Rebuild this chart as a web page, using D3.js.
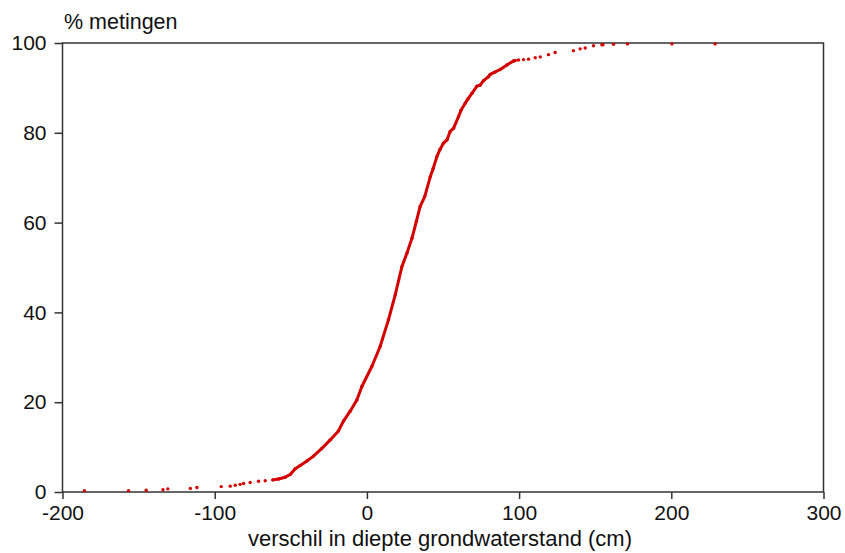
<!DOCTYPE html>
<html lang="nl">
<head>
    <meta charset="UTF-8">
    <title>Verschil in diepte grondwaterstand</title>
    <script src="https://cdnjs.cloudflare.com/ajax/libs/d3/7.8.5/d3.min.js"></script>
    <style>
        body { margin: 0; background: #fff; }
        text { font-family: "Liberation Sans", Arial, sans-serif; }
    </style>
</head>
<body>
    <div id="wrapper"></div>
    <script>
        // losse metingen aan de onderkant (cm, % metingen)
        const lowX = [-185.6, -156.6, -145.0, -134.0, -130.8, -116.0, -111.7, -95.7, -89.8, -86.5, -83.3, -81.0, -76.7, -71.2, -66.8]
        const lowPct = [0.3, 0.3, 0.4, 0.5, 0.7, 0.8, 1.0, 1.2, 1.3, 1.5, 1.7, 1.9, 2.1, 2.4, 2.5]

        // dichte middenstuk van de curve
        const midX = [-61.8, -58.1, -53.7, -50.4, -47.1, -43.8, -39.4, -35.1, -29.6, -24.1, -18.7, -15.4, -11.0, -6.6, -3.3,
            3.3, 8.7, 14.2, 18.6, 23.0, 26.3, 29.6, 32.5, 35.0, 38.0, 41.6, 43.5, 46.0, 48.0, 50.3, 52.6, 54.7, 56.9,
            60.2, 61.8, 64.6, 66.5, 69.0, 72.3, 74.4, 76.6, 79.9, 81.0, 84.0, 87.6, 92.0, 96.3, 97.4]
        const midPct = [2.7, 2.9, 3.3, 3.9, 5.2, 5.9, 6.9, 8.0, 9.7, 11.6, 13.6, 15.8, 18.0, 20.5, 23.5,
            28.0, 32.4, 38.4, 43.9, 50.2, 53.2, 56.5, 60.3, 63.6, 65.8, 70.2, 72.0, 74.7, 76.3, 77.7, 78.4, 80.3, 81.0,
            83.6, 85.0, 86.6, 87.6, 88.8, 90.4, 90.6, 91.6, 92.5, 93.0, 93.5, 94.1, 95.1, 96.0, 96.1]

        // losse metingen aan de bovenkant
        const highX = [99.6, 102.9, 106.2, 110.6, 113.9, 119.3, 123.7, 135.7, 140.1, 143.4, 148.9, 154.4, 155.1, 162.0, 171.2, 200.4, 228.8]
        const highPct = [96.2, 96.3, 96.4, 96.7, 96.9, 97.4, 97.9, 98.3, 98.7, 98.9, 99.4, 99.6, 99.6, 99.7, 99.8, 99.8, 99.8]

        const xTicks = [-200, -100, 0, 100, 200, 300]
        const yTicks = [0, 20, 40, 60, 80, 100]

        const red = '#d40000'
        const axisColor = '#333'

        let dimensions = {
            width: 845,
            height: 553,
            margin: { top: 43, right: 21.5, bottom: 61, left: 62.5 }
        }
        dimensions.boundedWidth = dimensions.width - dimensions.margin.left - dimensions.margin.right
        dimensions.boundedHeight = dimensions.height - dimensions.margin.top - dimensions.margin.bottom

        const svg = d3.select('#wrapper')
            .append('svg')
                .attr('width', dimensions.width)
                .attr('height', dimensions.height)

        const bounds = svg.append('g')
            .attr('transform', `translate(${dimensions.margin.left},${dimensions.margin.top})`)

        const xScale = d3.scaleLinear()
            .domain([-200, 300])
            .range([0, dimensions.boundedWidth])

        const yScale = d3.scaleLinear()
            .domain([0, 100])
            .range([dimensions.boundedHeight, 0])

        // kader
        bounds.append('rect')
            .attr('width', dimensions.boundedWidth)
            .attr('height', dimensions.boundedHeight)
            .attr('fill', 'none')
            .attr('stroke', axisColor)
            .attr('stroke-width', 1.5)

        // assen (gewoon koppelteken als minteken, zoals in het origineel)
        const plain = d => String(d)
        const xAxis = bounds.append('g')
            .attr('transform', `translate(0,${dimensions.boundedHeight})`)
            .call(d3.axisBottom(xScale).tickValues(xTicks).tickFormat(plain).tickSize(7).tickSizeOuter(0).tickPadding(6))
        const yAxis = bounds.append('g')
            .call(d3.axisLeft(yScale).tickValues(yTicks).tickFormat(plain).tickSize(8).tickSizeOuter(0).tickPadding(8))

        ;[xAxis, yAxis].forEach(axis => {
            axis.select('.domain').remove()
            axis.selectAll('line').attr('stroke', axisColor).attr('stroke-width', 1.5)
            axis.selectAll('text')
                .attr('fill', '#111')
                .style('font-size', '21px')
                .style('font-family', '"Liberation Sans", Arial, sans-serif')
        })

        // curve
        const midPoints = midX.map((x, i) => [x, midPct[i]])
        const line = d3.line()
            .x(d => xScale(d[0]))
            .y(d => yScale(d[1]))
        bounds.append('path')
            .datum(midPoints)
            .attr('d', line)
            .attr('fill', 'none')
            .attr('stroke', red)
            .attr('stroke-width', 3)
            .attr('stroke-linejoin', 'round')
            .attr('stroke-linecap', 'round')

        const allPoints = [
            ...lowX.map((x, i) => [x, lowPct[i]]),
            ...midPoints,
            ...highX.map((x, i) => [x, highPct[i]])
        ]
        bounds.append('g')
            .selectAll('circle')
            .data(allPoints)
            .enter().append('circle')
                .attr('cx', d => xScale(d[0]))
                .attr('cy', d => yScale(d[1]))
                .attr('r', 1.7)
                .attr('fill', red)

        // titels
        svg.append('text')
            .attr('x', 64)
            .attr('y', 29)
            .text('% metingen')
            .attr('fill', '#111')
            .style('font-size', '21.5px')

        svg.append('text')
            .attr('x', 440)
            .attr('y', 546)
            .attr('text-anchor', 'middle')
            .text('verschil in diepte grondwaterstand (cm)')
            .attr('fill', '#111')
            .style('font-size', '22px')
    </script>
</body>
</html>
